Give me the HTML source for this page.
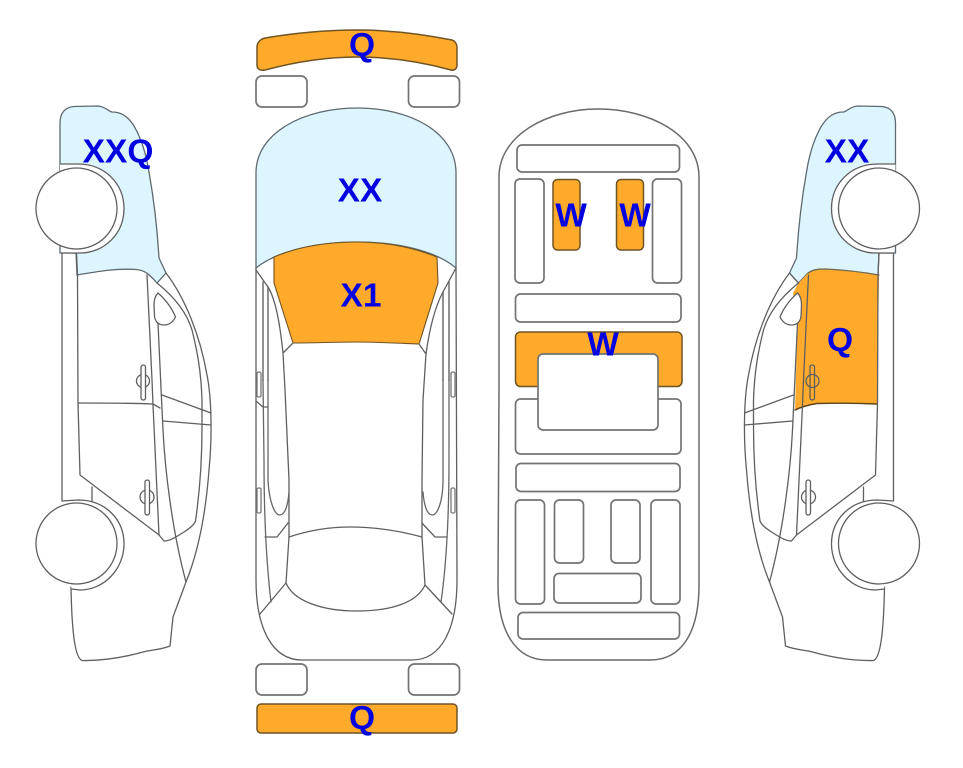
<!DOCTYPE html>
<html>
<head>
<meta charset="utf-8">
<style>
html,body{margin:0;padding:0;background:#fff}
svg{display:block}
text{font-family:"Liberation Sans",sans-serif;font-weight:bold;font-size:33.500px;fill:#0000e0;text-anchor:middle}
.l{fill:none;stroke:#5f5f5f;stroke-width:1.3;stroke-linejoin:round;stroke-linecap:round}
.r{fill:#fff;stroke:#737373;stroke-width:1.7}
.o{fill:#ffaa2b;stroke:#6f5424;stroke-width:1.5}
.b{fill:#ddf5ff;stroke:#5f6a70;stroke-width:1.3}
.w{fill:#fff;stroke:#5f5f5f;stroke-width:1.3}
</style>
</head>
<body>
<svg width="963" height="768" viewBox="0 0 963 768" xmlns="http://www.w3.org/2000/svg">
<rect width="963" height="768" fill="#fff"/>

<!-- left car glass -->
<path class="b" d="M60 164 L60 123 C60 112 66 107 74 106.500 L98 106 C105 106.500 108 111 112 112 C120 112 127 115 134 126 C141 138 146 153 149 172 C154 200 157 225 159 258 L166 273 L157 283 C150 275 145 270 136 269.500 C115 268 95 272 77 275 L76 253 L60 253 Z"/>

<g id="side">
<path class="w" d="M60 164 L78 164 C105 164 124 184 124 208.500 C124 234 104 253 80 253 L61 253"/>
<path class="l" d="M62 253 L62 501 M76.500 253 L77.500 275 L78 403 L80 475 L159 535 L164 541 C170 541 176 537 184 532 C190 528 194 525 195.500 521 C200 490 202 460 202 427 L202 400 C201 370 197 350 192 330 C186 310 172 295 157 283"/>
<path class="l" d="M166 273 C185 298 200 335 207 375 C212 400 212 440 209 470 C206 510 199 550 186 582 L173 617 L170 646 C160 650 150 650 143 652 C125 657 105 661 82 660.500 C76 658 72 640 71 587"/>
<path class="l" d="M147 275 L152 380 L153 405 L159 535 M158 323 L161 388 L163 430 C165 470 172 530 186 582"/>
<path class="l" d="M78 403 C105 403 130 403 153 404 L160 408 M162 395 L211 413 M163 421 L211 425 M92 487 L92 501"/>
<path class="w" d="M62 501 L78 500 C105 500 124 519 124 544 C124 569 104 590 80 590 L71.500 589"/>
<circle class="w" cx="76.500" cy="208.500" r="40.500"/>
<circle class="w" cx="76.500" cy="543.500" r="40.500"/>
<circle class="l" cx="143" cy="381" r="6.500"/>
<rect class="w" x="141" y="365" width="4.500" height="35" rx="2.200"/>
<circle class="l" cx="147" cy="497" r="7"/>
<rect class="w" x="145" y="480" width="4.500" height="35" rx="2.200"/>
</g>

<!-- right car -->
<path class="b" d="M895.500 164 L895.500 123 C895.500 112 889.500 107 881.500 106.500 L857.500 106 C850.500 106.500 847.500 111 843.500 112 C835.500 112 828.500 115 821.500 126 C814.500 138 809.500 153 806.500 172 C801.500 200 798.500 225 796.500 258 L789.500 273 L798.500 283 L808 273 L820 269 L878 275 L879 253 L895.500 253 Z"/>
<path d="M798.500 283 L808 273 C813 269.500 818 269 826 269 C845 270 862 272 879 275 L877 404 C856 403 836 403 817 403.500 C808 405 801 407 795 410 L797 345 L798 323 L793 293 Z" fill="#ffaa2b"/>
<path class="l" style="stroke:#5a4418;stroke-width:1.400" d="M877 404 C856 403 836 403 817 403.500 C808 405 801 407 795 410"/>
<path class="l" style="stroke:#6f6a50" d="M808 273 C813 269.500 818 269 826 269 C845 270 862 272 879 275"/>
<g transform="translate(955.500 0) scale(-1 1)">
<path class="w" d="M60 164 L78 164 C105 164 124 184 124 208.500 C124 234 104 253 80 253 L61 253"/>
<path class="l" d="M62 253 L62 501 M76.500 253 L77.500 275 L78 403 L80 475 L159 535 L164 541 C170 541 176 537 184 532 C190 528 194 525 195.500 521 C200 490 202 460 202 427 L202 400 C201 370 197 350 192 330 C186 310 172 295 157 283"/>
<path class="l" d="M166 273 L157 283 M166 273 C185 298 200 335 207 375 C212 400 212 440 209 470 C206 510 199 550 186 582 L173 617 L170 646 C160 650 150 650 143 652 C125 657 105 661 82 660.500 C76 658 72 640 71 587"/>
<path class="l" d="M147 275 L152 380 L153 405 L159 535 M158 323 L161 388 L163 430 C165 470 172 530 186 582"/>
<path class="l" d="M162 395 L211 413 M163 421 L211 425 M92 487 L92 501"/>
<path class="w" d="M62 501 L78 500 C105 500 124 519 124 544 C124 569 104 590 80 590 L71.500 589"/>
<circle class="w" cx="76.500" cy="208.500" r="40.500"/>
<circle class="w" cx="76.500" cy="543.500" r="40.500"/>
<circle class="l" cx="143" cy="381" r="6.500"/>
<rect x="141" y="365" width="4.500" height="35" rx="2.200" fill="none" stroke="#5f5f5f" stroke-width="1.300"/>
<circle class="l" cx="147" cy="497" r="7"/>
<rect class="w" x="145" y="480" width="4.500" height="35" rx="2.200"/>
</g>
<!-- mirrors -->
<path class="w" d="M158 293 C155 296 154 300 154 305 L154.500 316 C155 322 159 325 164 325 C169 325 173 322 175.500 317 C172 308 165 299 158 293 Z"/>
<path class="w" d="M797.500 293 C800.500 296 801.500 300 801.500 305 L801 316 C800.500 322 796.500 325 791.500 325 C786.500 325 782.500 322 780 317 C783.500 308 790.500 299 797.500 293 Z"/>

<!-- centre car: top view -->
<path class="o" d="M257 47 C257 42 261 39 265 38 C295 33 325 30 357 30 C390 30 422 34 452 40 C455 41 457 44 457 47 L457 65 C457 69 454 71 451 70 C422 62 390 57 357 57 C325 57 295 62 265 70 C260 71 257 69 257 65 Z"/>
<rect class="r" x="256" y="76" width="51" height="31" rx="6"/>
<rect class="r" x="408.500" y="76" width="51" height="31" rx="6"/>
<path class="b" d="M256 268 L256 173 C256 132 305 108 357 108 C410 108 456 132 456 173 L456 268 C435 250 395 242 357 242 C320 242 278 250 256 268 Z"/>
<path class="o" style="stroke-width:1.100" d="M274 257 C300 246 330 242 357 242 C385 242 412 247 437 257 L438 283 L419 344 C395 343 375 342 357 342 C335 342 315 343 293 343 L274 283 Z"/>
<path class="l" d="M256 268 L256 580 C256 628 272 660 302 660 L412 660 C442 660 457 628 457 580 L456 268"/>
<path class="l" style="stroke:#777;stroke-width:1.600" d="M263 282 L263 380 M268 287 L268 380 M449 282 L449 380 M443 292 L443 380"/>
<path class="l" d="M256 270 L268 287 C276 300 280 325 283 353 L293 343 M283 353 L285 390 L289 480 L289 537 L286 583 L260 614 M456 268 L443 292 C436 305 430 325 426 354 L419 344 M426 354 L423 400 L422 480 L422 537 L425 585 L452 614"/>
<path class="l" style="stroke:#666" d="M263 380 L264 460 C264 510 266 560 271 602 M268 380 L268 480 C269 500 274 515 280 515 C285 515 288 505 289 492 M449 380 L449 460 C449 510 447 560 441 602 M443 380 L443 480 C443 500 438 515 432 515 C427 515 424 505 423 492"/>
<path class="l" d="M289 537 C310 530 330 527 350 527 C375 527 400 531 422 537 M286 583 C293 600 320 611 357 611 C390 611 417 603 425 585"/>
<path class="l" d="M265 537 L277 537 L288 523 M422 523 L435 537 L447 537 M256 401 L263 407 L268 407"/>
<g fill="#fff" stroke="#777" stroke-width="1.300">
<rect x="257" y="372" width="4" height="25" rx="1.500"/>
<rect x="451" y="372" width="4" height="25" rx="1.500"/>
<rect x="257" y="488" width="4" height="25" rx="1.500"/>
<rect x="451" y="488" width="4" height="25" rx="1.500"/>
</g>
<rect class="r" x="256" y="664" width="51" height="31" rx="6"/>
<rect class="r" x="408.500" y="664" width="51" height="31" rx="6"/>
<rect class="o" x="257" y="704" width="200" height="29" rx="4"/>

<!-- centre car: interior -->
<path class="l" style="stroke-width:1.500;stroke:#6a6a6a" d="M499 390 L499 177 C499 135 548 109 598 109 C650 109 699 135 699 177 L699 585 C699 632 682 660 650 660 L547 660 C516 660 498 632 498 585 Z"/>
<rect class="r" x="517" y="145" width="162.500" height="27" rx="5"/>
<rect class="r" x="515" y="179" width="29" height="104" rx="5"/>
<rect class="o" x="553" y="179.500" width="27" height="70.500" rx="4.500"/>
<rect class="o" x="616.500" y="179.500" width="27" height="70.500" rx="4.500"/>
<rect class="r" x="652.500" y="179" width="29" height="104" rx="5"/>
<rect class="r" x="515.500" y="294" width="165.500" height="28" rx="5"/>
<rect class="o" x="515.500" y="332" width="166.500" height="54.500" rx="5"/>
<rect class="r" x="515.500" y="399" width="165.500" height="55" rx="5"/>
<rect class="r" x="538" y="354" width="120" height="76" rx="5"/>
<rect class="r" x="516" y="463.500" width="164" height="28" rx="5"/>
<rect class="r" x="515.500" y="500" width="29" height="104" rx="5"/>
<rect class="r" x="554.500" y="500" width="29" height="63" rx="5"/>
<rect class="r" x="611" y="500" width="29" height="63" rx="5"/>
<rect class="r" x="651" y="500" width="29" height="104" rx="5"/>
<rect class="r" x="554" y="573.500" width="87" height="29.500" rx="5"/>
<rect class="r" x="518" y="612.500" width="161.500" height="26.500" rx="5"/>

<!-- labels -->
<text x="118" y="162.500">XXQ</text>
<text x="360" y="201.500">XX</text>
<text x="361" y="306.500">X1</text>
<text x="362" y="56">Q</text>
<text x="362" y="729">Q</text>
<text x="571" y="226.500">W</text>
<text x="635" y="226.500">W</text>
<text x="603" y="355.500">W</text>
<text x="847" y="162.500">XX</text>
<text x="840" y="351">Q</text>
</svg>
</body>
</html>
